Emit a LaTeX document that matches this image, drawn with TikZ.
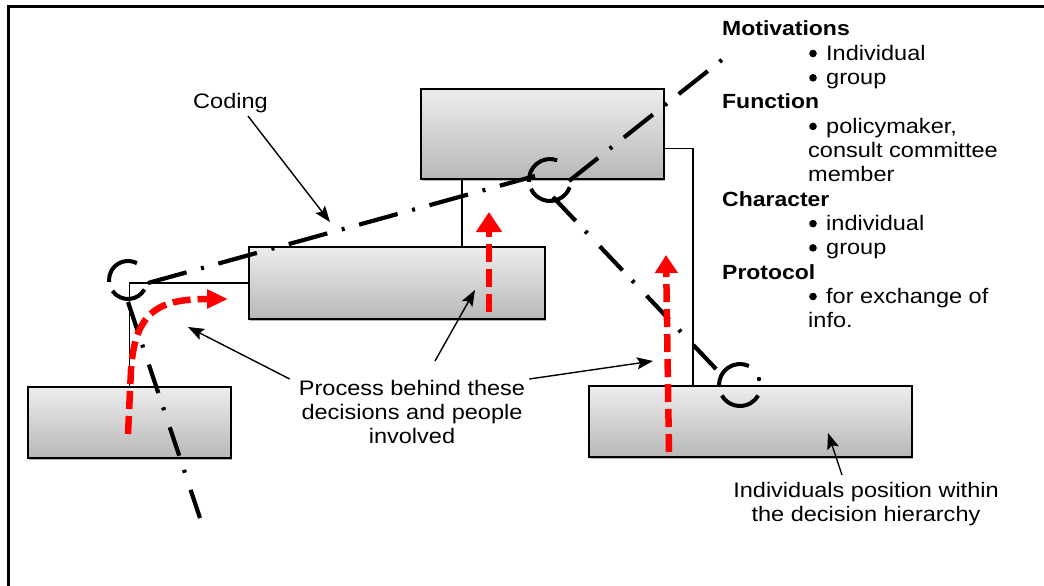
\documentclass[tikz,border=0pt]{standalone}
\usepackage{fontspec}
\setmainfont{Liberation Sans}[FakeStretch=1.12]
\usetikzlibrary{arrows.meta,shadows,calc}

\definecolor{boxtop}{gray}{0.93}
\definecolor{boxbot}{gray}{0.72}

\tikzset{
  stage/.style={draw=black, line width=1.8pt, top color=boxtop, bottom color=boxbot,
    drop shadow={shadow xshift=1.5pt, shadow yshift=-2pt, opacity=0.3, fill=black},
    inner sep=0pt, anchor=north west},
  tie/.style={line width=1.3pt},
  link/.style={line width=4.2pt},
  joint/.style={line width=4pt},
  flow/.style={red, line width=6.5pt, dash pattern=on 18pt off 7pt},
  note/.style={line width=1.4pt, -{Stealth[length=16pt,width=12pt,inset=3pt]}},
  lbl/.style={font=\fontsize{21}{24}\selectfont, inner sep=0pt},
  head/.style={font=\fontsize{20.5}{24}\selectfont\bfseries, inner sep=0pt, anchor=base west},
  item/.style={font=\fontsize{21}{24}\selectfont, inner sep=0pt, anchor=base west},
}

\begin{document}
\begin{tikzpicture}[x=1pt,y=-1pt]
\useasboundingbox (0,0) rectangle (1044,586);

% open frame: left and top rules
\draw[line width=3pt] (8.3,590) -- (8.3,7) -- (1050,7);

% hierarchy boxes
\node[stage, minimum width=243pt, minimum height=90pt] (A) at (420,88) {};
\node[stage, minimum width=296pt, minimum height=72pt] (B) at (248,246) {};
\node[stage, minimum width=203pt, minimum height=71pt] (C) at (27,386) {};
\node[stage, minimum width=323pt, minimum height=71pt] (D) at (588,385) {};

% reporting lines between boxes
\coordinate (a1) at ([xshift=42pt]A.south west);
\draw[tie] (a1) -- (a1 |- B.north);
\coordinate (a2) at ([yshift=31pt]A.south east);
\coordinate (d1) at ([xshift=105pt]D.north west);
\draw[tie] (a2) -| (d1);
\draw[tie] (B.west) -| (C.north);

% joints
\coordinate (J1) at (128,280);
\coordinate (J2) at (550,180);
\coordinate (J3) at (740,385);
\draw[joint] ([shift={(62:19pt)}]J1) arc[start angle=62, end angle=186, radius=19pt];
\draw[joint] ([shift={(215:19pt)}]J1) arc[start angle=215, end angle=330, radius=19pt];
\draw[joint] ([shift={(70:21pt)}]J2) arc[start angle=70, end angle=185, radius=21pt];
\draw[joint] ([shift={(205:21pt)}]J2) arc[start angle=205, end angle=340, radius=21pt];
\draw[joint] ([shift={(65:21pt)}]J3) arc[start angle=65, end angle=180, radius=21pt];
\draw[joint] ([shift={(210:21pt)}]J3) arc[start angle=210, end angle=330, radius=21pt];

% links (dash-dot)
\coordinate (l1a) at (148,283);
\coordinate (l1b) at (535,176);
\coordinate (l2a) at (569,181);
\coordinate (l2b) at (723,59);
\coordinate (l3a) at (553,197);
\coordinate (l3b) at (717,370);
\coordinate (l4a) at (128,302);
\coordinate (l4b) at (200,518);
\draw[link, dash pattern=on 40pt off 15pt on 3pt off 15pt] (l1a) -- (l1b);
\draw[link, dash pattern=on 37pt off 15pt on 3pt off 15pt] (l2a) -- (l2b);
\draw[link, dash pattern=on 33pt off 14pt on 3pt off 18pt] (l3a) -- (l3b);
\draw[link, dash pattern=on 30pt off 15pt on 3pt off 18pt] (l4a) -- (l4b);
\fill (759,379) circle (2.2pt);

% process flows (red)
\coordinate (r1a) at (489,312);
\coordinate (r1b) at (489,212);
\coordinate (r2a) at (669,452);
\coordinate (r2b) at (666,255);
\coordinate (r3a) at (128,434);
\coordinate (r3m) at (131,370);
\coordinate (r3b) at (228,299);
\draw[flow, -{Triangle[length=20pt,width=25pt]}] (r1a) -- (r1b);
\draw[flow, -{Triangle[length=18pt,width=22pt]}] (r2a) -- (r2b);
\draw[flow, -{Triangle[length=21pt,width=18pt]}] (r3a) -- (r3m) .. controls (135,310) and (160,299) .. (r3b);

% annotations
\node[lbl, anchor=base] (coding) at (230.5,108) {Coding};
\draw[note] ($(coding.south)+(17.5,3.5)$) -- (330,222);

\node[lbl, anchor=north, align=center] (proc) at (412,380)
  {Process behind these\\decisions and people\\involved};
\draw[note] ($(proc.north west)+(-9,-1)$) -- (188,327);
\draw[note] ($(proc.north)+(23,-19)$) -- (475,290);
\draw[note] ($(proc.north east)+(4,-1)$) -- (653,361);

\node[lbl, anchor=north, align=center] (pos) at (866,482)
  {Individuals position within\\the decision hierarchy};
\draw[note] ($(pos.north)+(-24,-7)$) -- (828,433);

% attribute list: headings, bulleted entries and continuation lines
\node[head] (m0) at (722,36) {Motivations};
\node[item] (m1) at (826,60.3) {Individual};
\node[item] (m2) at (826,84.6) {group};
\node[head] (m3) at (722,108.9) {Function};
\node[item] (m4) at (826,133.2) {policymaker,};
\node[item] (m5) at (808,157.5) {consult committee};
\node[item] (m6) at (808,181.8) {member};
\node[head] (m7) at (722,206.1) {Character};
\node[item] (m8) at (826,230.4) {individual};
\node[item] (m9) at (826,254.7) {group};
\node[head] (m10) at (722,279) {Protocol};
\node[item] (m11) at (826,303.3) {for exchange of};
\node[item] (m12) at (808,327.6) {info.};
\foreach \m in {m1,m2,m4,m8,m9,m11}
  \fill ($(\m.base west)+(-13,-6.8)$) circle (3.8pt);
\end{tikzpicture}
\end{document}
